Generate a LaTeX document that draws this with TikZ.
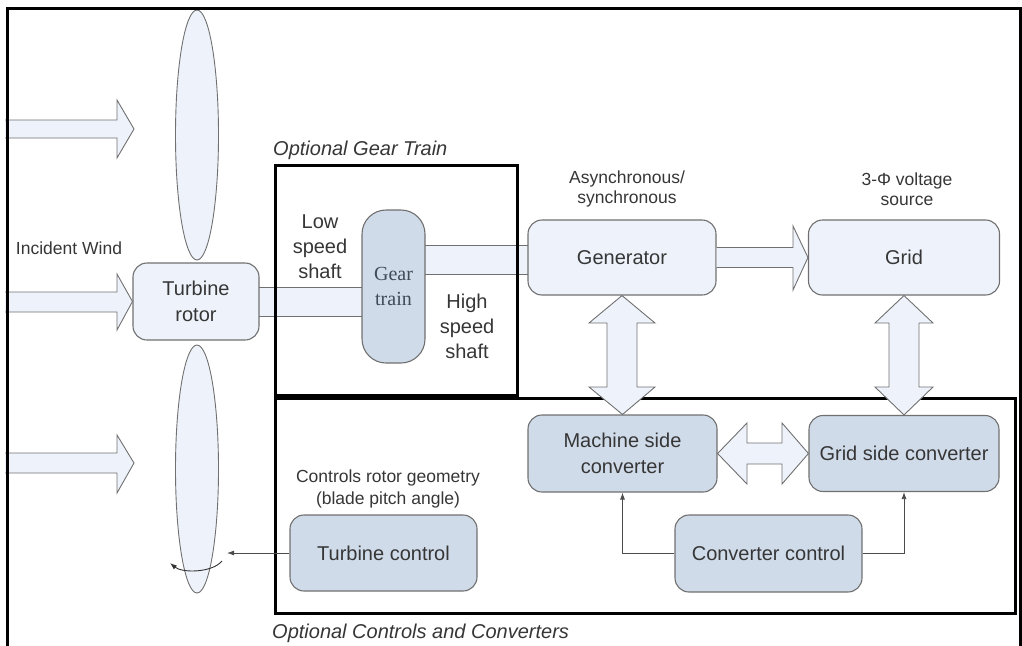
\documentclass[tikz,border=0pt]{standalone}
\usepackage{fontspec}
\setmainfont{Liberation Sans}
\newfontfamily\gearfont{Liberation Serif}
\usetikzlibrary{arrows.meta,calc,shapes.geometric}
\pgfdeclarelayer{behind}
\pgfsetlayers{behind,main}
\definecolor{boxfill}{HTML}{EEF3FB}
\definecolor{stripefill}{HTML}{D0DBE9}
\definecolor{edgegray}{HTML}{707070}
\definecolor{txt}{HTML}{363636}
\definecolor{geartxt}{HTML}{3F4B57}
\begin{document}
\begin{tikzpicture}[x=1pt,y=-1pt,
 lightbox/.style={draw=edgegray, line width=1.1pt, fill=boxfill, rounded corners=14pt, text=txt, align=center, font=\fontsize{20}{26}\selectfont, inner sep=0pt},
 stripebox/.style={lightbox, fill=stripefill},
 blockarrow/.style={draw=edgegray, line width=0.9pt, fill=boxfill, line join=miter},
 band/.style={draw=edgegray, line width=0.9pt, fill=boxfill},
 thickframe/.style={draw=black, line width=3pt},
 blade/.style={ellipse, draw=edgegray, line width=0.9pt, fill=boxfill, inner sep=0pt},
 note/.style={text=txt, align=center, font=\fontsize{17.5}{20}\selectfont, inner sep=0pt},
 bigtext/.style={text=txt, align=center, font=\fontsize{20}{25}\selectfont, inner sep=0pt},
 italiclabel/.style={text=txt, anchor=west, font=\fontsize{20}{24}\selectfont\itshape, inner sep=0pt},
 ctrl/.style={draw=black!70, line width=0.8pt, -{Latex[length=7pt,width=5pt]}},
]
\useasboundingbox (0,0) rectangle (1022,645);

% blades
\node[blade, minimum width=43pt, minimum height=250pt] (blade1) at (197,135) {};
\node[blade, minimum width=43pt, minimum height=248pt] (blade2) at (197,469) {};

% nodes
\node[lightbox, minimum width=126pt, minimum height=77pt] (rotor) at (196,301.5) {Turbine\\rotor};
\node[stripebox, rounded corners=24pt, minimum width=63pt, minimum height=153pt, text=geartxt, font=\gearfont\fontsize{20}{25}\selectfont] (gear) at (393.5,286.5) {Gear\\train};
\node[lightbox, minimum width=188pt, minimum height=75pt] (gen) at (622,257.5) {Generator};
\node[lightbox, minimum width=191pt, minimum height=75pt] (grid) at (904,257.5) {Grid};
\node[stripebox, minimum width=189pt, minimum height=77pt] (msc) at (622.5,453.5) {Machine side\\converter};
\node[stripebox, minimum width=190pt, minimum height=76pt] (gsc) at (904,453.5) {Grid side converter};
\node[stripebox, minimum width=187pt, minimum height=76pt] (tc) at (383.5,553) {Turbine control};
\node[stripebox, minimum width=187pt, minimum height=77pt] (cc) at (768.5,553.5) {Converter control};

% shafts (behind the boxes)
\begin{pgfonlayer}{behind}
\draw[band] ($(rotor.east)+(-3,-14)$) rectangle ($(rotor.east -| gear.west)+(3,15)$);
\draw[band] ($(gear.east |- gen.west)+(-3,-12)$) rectangle ($(gen.west)+(3,17)$);
\end{pgfonlayer}

% frames
\draw[thickframe] (7,648) -- (7,8) -- (1020,8) -- (1020,648);
\draw[thickframe] (275,165) rectangle (517,395);
\draw[thickframe] (275,398) rectangle (1015,613);

% wind arrows
\coordinate (w1) at (134,129);
\coordinate (w3) at (134,463);
\draw[blockarrow] (5,120) -- (117,120) -- (117,100) -- (w1) -- (117,158) -- (117,138) -- (5,138);
\draw[blockarrow] (5,292) -- (117,292) -- (117,274) -- (rotor.west) -- (117,330) -- (117,312) -- (5,312);
\draw[blockarrow] (5,453) -- (117,453) -- (117,435) -- (w3) -- (117,493) -- (117,473) -- (5,473);
\draw[thickframe] (7,8) -- (7,648);

% generator -> grid
\draw[blockarrow] ($(gen.east)+(0,-10)$) -- (793,247.5) -- (793,226) -- (grid.west) -- (793,290) -- (793,267.5) -- ($(gen.east)+(0,10)$);

% double arrows
\draw[blockarrow] (gen.south) -- (655,323) -- (637,323) -- (637,387) -- (655,387) -- (msc.north) -- (589,387) -- (607,387) -- (607,323) -- (589,323) -- cycle;
\draw[blockarrow] (grid.south) -- (933,323) -- (919,323) -- (919,387) -- (933,387) -- (gsc.north) -- (875,387) -- (889,387) -- (889,323) -- (875,323) -- cycle;
\draw[blockarrow] (msc.east) -- (747,423) -- (747,443) -- (782,443) -- (782,423) -- (gsc.west) -- (782,484) -- (782,464) -- (747,464) -- (747,484) -- cycle;

% control lines
\coordinate (pitch) at (227,553);
\draw[ctrl] (tc.west) -- (pitch);
\draw[ctrl] (cc.west) -| (msc.south);
\draw[ctrl] (cc.east) -| (gsc.south);

% pitch rotation arrow
\coordinate (r1) at (222,561);
\coordinate (r2) at (170,563);
\draw[line width=0.9pt, draw=black!80, -{Latex[length=7pt,width=5pt]}] (r1) .. controls (212,573) and (182,573) .. (r2);

% labels
\node[note] (wind) at (69,248) {Incident Wind};
\node[italiclabel] (gtlabel) at (273,150) {Optional Gear Train};
\node[bigtext] (lss) at (320,247) {Low\\speed\\shaft};
\node[bigtext] (hss) at (467,326) {High\\speed\\shaft};
\node[note] (async) at (627,189) {Asynchronous/\\synchronous};
\node[note] (vsrc) at (907,189) {3-Φ voltage\\source};
\node[note, font=\fontsize{17.5}{22}\selectfont] (ctrlnote) at (388,489) {Controls rotor geometry\\(blade pitch angle)};
\node[italiclabel] (cclabel) at (272,633) {Optional Controls and Converters};
\end{tikzpicture}
\end{document}
